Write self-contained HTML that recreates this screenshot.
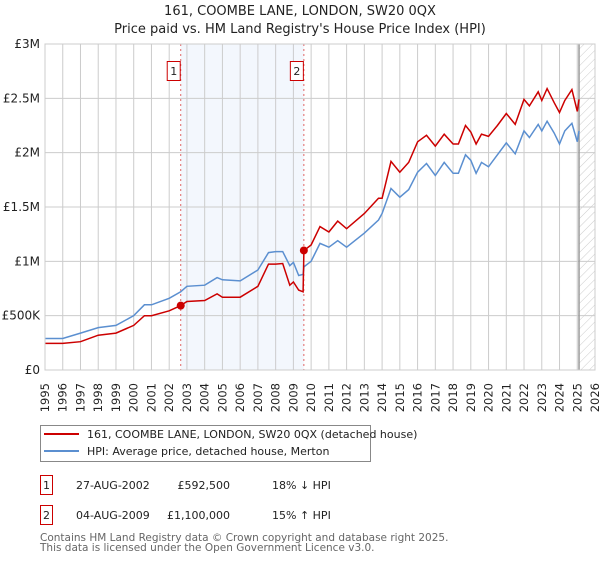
<!DOCTYPE html>
<html><head><meta charset="utf-8"><style>
body{margin:0;background:#fff;font-family:"DejaVu Sans","Liberation Sans",sans-serif;}
svg text{font-family:"DejaVu Sans","Liberation Sans",sans-serif;}
</style></head><body>
<svg id="chart" width="600" height="560" xmlns="http://www.w3.org/2000/svg">
<defs><pattern id="hatch" width="6" height="6" patternUnits="userSpaceOnUse" patternTransform="rotate(45)"><line x1="0" y1="0" x2="0" y2="6" stroke="#ccc" stroke-width="1"/></pattern></defs>
<text x="300" y="15" text-anchor="middle" font-size="13" fill="#222">161, COOMBE LANE, LONDON, SW20 0QX</text>
<text x="300" y="33" text-anchor="middle" font-size="13" fill="#222">Price paid vs. HM Land Registry's House Price Index (HPI)</text>
<g id="plot"></g>
<rect x="40.5" y="425.5" width="330" height="36" fill="#fff" stroke="#888"/>
<line x1="44" y1="434" x2="79" y2="434" stroke="#cc0000" stroke-width="2"/>
<text x="87" y="438" font-size="11" fill="#222">161, COOMBE LANE, LONDON, SW20 0QX (detached house)</text>
<line x1="44" y1="451" x2="79" y2="451" stroke="#5b8fd0" stroke-width="2"/>
<text x="87" y="455" font-size="11" fill="#222">HPI: Average price, detached house, Merton</text>
<g font-size="11" fill="#222">
<rect x="40.5" y="475.5" width="12" height="19" fill="#fff" stroke="#cc0000"/>
<text x="46.5" y="489" text-anchor="middle">1</text>
<text x="76" y="489">27-AUG-2002</text>
<text x="230" y="489" text-anchor="end">£592,500</text>
<text x="272" y="489">18% ↓ HPI</text></g>
<g font-size="11" fill="#222">
<rect x="40.5" y="505.5" width="12" height="19" fill="#fff" stroke="#cc0000"/>
<text x="46.5" y="519" text-anchor="middle">2</text>
<text x="76" y="519">04-AUG-2009</text>
<text x="230" y="519" text-anchor="end">£1,100,000</text>
<text x="272" y="519">15% ↑ HPI</text></g>
<text x="40" y="541" font-size="10.5" fill="#666">Contains HM Land Registry data © Crown copyright and database right 2025.</text>
<text x="40" y="551" font-size="10.5" fill="#666">This data is licensed under the Open Government Licence v3.0.</text>
</svg>
<script>
const hpiYears=[1995,1996,1997,1998,1999,2000,2000.6,2001,2002,2002.65,2003,2004,2004.7,2005,2006,2007,2007.6,2008,2008.4,2008.8,2009,2009.3,2009.55,2009.6,2010,2010.5,2011,2011.5,2012,2013,2013.8,2014,2014.5,2015,2015.5,2016,2016.5,2017,2017.5,2018,2018.3,2018.7,2019,2019.3,2019.6,2020,2020.5,2021,2021.5,2022,2022.3,2022.8,2023,2023.3,2023.7,2024,2024.3,2024.7,2025,2025.1];
const hpiValues=[0.29,0.29,0.34,0.39,0.41,0.50,0.60,0.60,0.66,0.72,0.77,0.78,0.85,0.83,0.82,0.92,1.08,1.09,1.09,0.96,0.99,0.87,0.88,0.95,1.0,1.165,1.13,1.19,1.13,1.26,1.38,1.44,1.67,1.59,1.66,1.82,1.90,1.79,1.91,1.81,1.81,1.98,1.93,1.81,1.91,1.87,1.98,2.09,1.99,2.20,2.14,2.26,2.20,2.29,2.18,2.08,2.20,2.27,2.10,2.20];
const priceYears=[1995,1996,1997,1998,1999,2000,2000.6,2001,2002,2002.65,2003,2004,2004.7,2005,2006,2007,2007.6,2008,2008.4,2008.8,2009,2009.3,2009.55,2009.59,2010,2010.5,2011,2011.5,2012,2013,2013.8,2014,2014.5,2015,2015.5,2016,2016.5,2017,2017.5,2018,2018.3,2018.7,2019,2019.3,2019.6,2020,2020.5,2021,2021.5,2022,2022.3,2022.8,2023,2023.3,2023.7,2024,2024.3,2024.7,2025,2025.1];
const priceValues=[0.245,0.245,0.26,0.32,0.34,0.41,0.50,0.50,0.545,0.5925,0.63,0.64,0.70,0.67,0.67,0.77,0.975,0.975,0.98,0.78,0.81,0.735,0.72,1.10,1.15,1.32,1.27,1.37,1.30,1.44,1.58,1.58,1.92,1.82,1.91,2.10,2.16,2.06,2.17,2.08,2.08,2.25,2.19,2.08,2.17,2.15,2.25,2.36,2.26,2.49,2.43,2.56,2.48,2.59,2.46,2.37,2.48,2.58,2.38,2.49];
const saleYears=[2002.65,2009.59];
const saleValues=[0.5925,1.10];
const saleLabels=["1","2"];
const yTicks=[0,0.5,1,1.5,2,2.5,3];
const yTickLabels=["£0","£500K","£1M","£1.5M","£2M","£2.5M","£3M"];
const xStart=1995,xEnd=2026,dataEnd=2025.1;
const L=45,R=595,T=44,B=370;
const xs=y=>L+(y-xStart)/(xEnd-xStart)*(R-L);
const ys=v=>B-v/3*(B-T);
const NS="http://www.w3.org/2000/svg";
const g=document.getElementById('plot');
function mk(t,a){const e=document.createElementNS(NS,t);for(const k in a)e.setAttribute(k,a[k]);g.appendChild(e);return e;}
let e=mk('rect',{x:xs(saleYears[0]),y:T,width:xs(saleYears[1])-xs(saleYears[0]),height:B-T,fill:'#eef3fc',opacity:0.7});


e=mk('rect',{x:xs(dataEnd),y:T,width:R-xs(dataEnd),height:B-T,fill:'url(#hatch)'});


for(let y=xStart;y<=xEnd;y++){
 e=mk('line',{x1:xs(y),x2:xs(y),y1:T,y2:B,stroke:'#ccc','stroke-width':1});
 
 
 const tx=xs(y)+4;
 e=mk('text',{x:tx,y:383,transform:`rotate(-90 ${tx} 383)`,'text-anchor':'end','font-size':11.5,fill:'#222'});
 e.textContent=y;
 
 
}
yTicks.forEach((v,i)=>{
 e=mk('line',{x1:L,x2:R,y1:ys(v),y2:ys(v),stroke:'#ccc','stroke-width':1});
 
 
 e=mk('text',{x:40,y:ys(v)+4,'text-anchor':'end','font-size':12,fill:'#222'});
 e.textContent=yTickLabels[i];
 
 
});
e=mk('line',{x1:xs(dataEnd),x2:xs(dataEnd),y1:T,y2:B,stroke:'#999','stroke-width':1.5});


saleYears.forEach((s,i)=>{
 e=mk('line',{x1:xs(s),x2:xs(s),y1:T,y2:B,stroke:'#e06666','stroke-width':1,'stroke-dasharray':'2,3'});
 
 
 e=mk('rect',{x:xs(s)-13.5,y:61.5,width:13,height:19,fill:'#fff',stroke:'#cc0000'});
 
 
 e=mk('text',{x:xs(s)-7,y:75,'text-anchor':'middle','font-size':11,fill:'#222'});
 e.textContent=saleLabels[i];
 
 
});
const pts=(xa,va)=>xa.map((x,i)=>xs(x).toFixed(1)+','+ys(va[i]).toFixed(1)).join(' ');
e=mk('polyline',{points:pts(hpiYears,hpiValues),fill:'none',stroke:'#5b8fd0','stroke-width':1.5});


e=mk('polyline',{points:pts(priceYears,priceValues),fill:'none',stroke:'#cc0000','stroke-width':1.5});


saleYears.forEach((s,i)=>{
 e=mk('circle',{cx:xs(s),cy:ys(saleValues[i]),r:4,fill:'#cc0000'});
 
 
});
e=mk('rect',{x:L,y:T,width:R-L,height:B-T,fill:'none',stroke:'#ccc'});


</script>
</body></html>
